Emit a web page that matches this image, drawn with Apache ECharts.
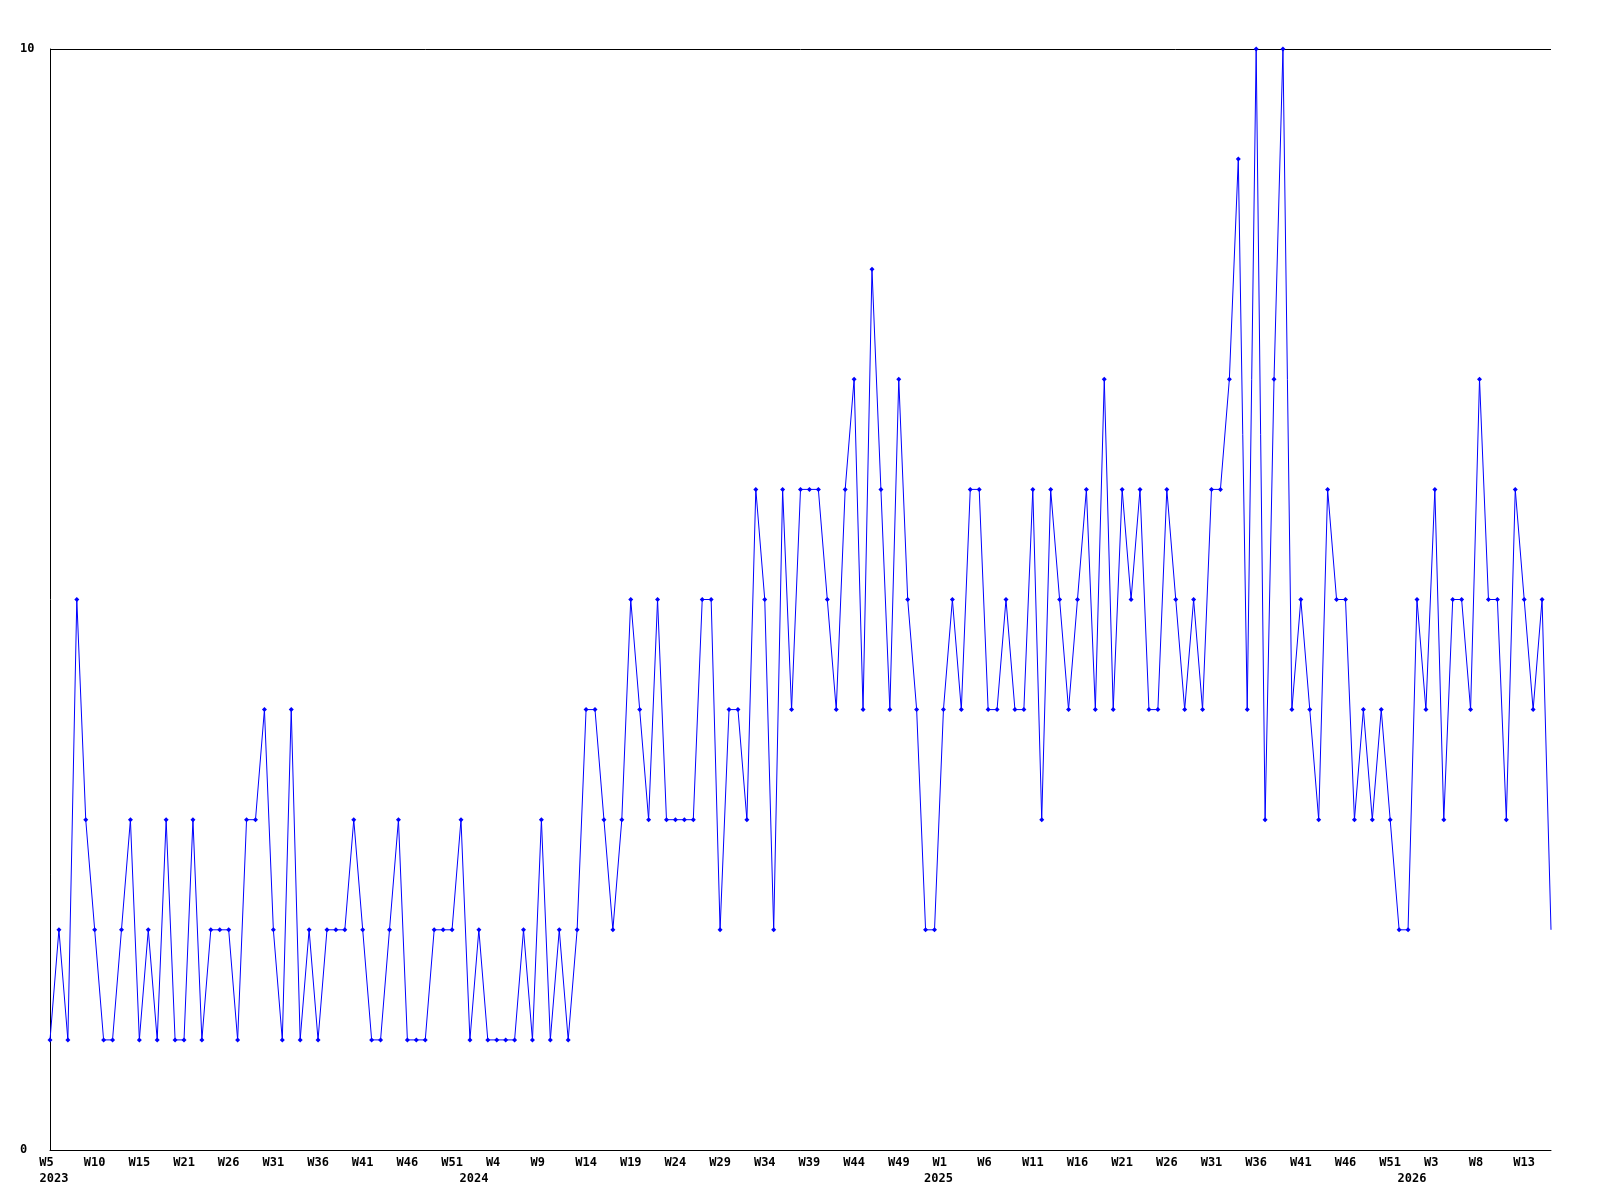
<!DOCTYPE html>
<html>
<head>
<meta charset="utf-8">
<title>Weekly count</title>
<script src="https://cdn.jsdelivr.net/npm/echarts@6/dist/echarts.min.js"></script>
<style>
  html, body { margin: 0; padding: 0; background: #fff; }
  #chart { width: 1600px; height: 1200px; }
</style>
</head>
<body>
<div id="chart"></div>
<script>
// week buckets for each year (weeks with no data are left out)
const weeks2023 = [5, 6, 7, 8, 9, 10, 11, 12, 13, 14, 15, 16, 17, 19, 20, 21, 22, 23, 24, 25, 26, 27, 28, 29, 30,
  31, 32, 33, 34, 35, 36, 37, 38, 39, 40, 41, 42, 43, 44, 45, 46, 47, 48, 49, 50, 51, 52];
const weeks2024 = [1, 2, 3, 4, 5, 6, 7, 8, 9, 10, 11, 12, 13, 14, 15, 16, 17, 18, 19, 20, 21, 22, 23, 24, 25, 26,
  27, 28, 29, 30, 31, 32, 33, 34, 35, 36, 37, 38, 39, 40, 41, 42, 43, 44, 45, 46, 47, 48, 49, 50, 51, 52];
const weeks2025 = [0, 1, 2, 3, 4, 5, 6, 7, 8, 9, 10, 11, 12, 13, 14, 15, 16, 17, 18, 19, 20, 21, 22, 23, 24, 25, 26,
  27, 28, 29, 30, 31, 32, 33, 34, 35, 36, 37, 38, 39, 40, 41, 42, 43, 44, 45, 46, 47, 48, 49, 50, 51, 52];
const weeks2026 = [0, 1, 2, 3, 4, 5, 6, 7, 8, 9, 10, 11, 12, 13, 14, 15, 16];

// count per week
const counts = [
  1, 2, 1, 5, 3, 2, 1, 1, 2, 3, 1, 2, 1, 3, 1, 1, 3, 1, 2, 2,
  2, 1, 3, 3, 4, 2, 1, 4, 1, 2, 1, 2, 2, 2, 3, 2, 1, 1, 2, 3,
  1, 1, 1, 2, 2, 2, 3, 1, 2, 1, 1, 1, 1, 2, 1, 3, 1, 2, 1, 2,
  4, 4, 3, 2, 3, 5, 4, 3, 5, 3, 3, 3, 3, 5, 5, 2, 4, 4, 3, 6,
  5, 2, 6, 4, 6, 6, 6, 5, 4, 6, 7, 4, 8, 6, 4, 7, 5, 4, 2, 2,
  4, 5, 4, 6, 6, 4, 4, 5, 4, 4, 6, 3, 6, 5, 4, 5, 6, 4, 7, 4,
  6, 5, 6, 4, 4, 6, 5, 4, 5, 4, 6, 6, 7, 9, 4, 10, 3, 7, 10, 4,
  5, 4, 3, 6, 5, 5, 3, 4, 3, 4, 3, 2, 2, 5, 4, 6, 3, 5, 5, 4,
  7, 5, 5, 3, 6, 5, 4, 5, 2
];

const yearWeeks = [['2023', weeks2023], ['2024', weeks2024], ['2025', weeks2025], ['2026', weeks2026]];
const categories = [];
yearWeeks.forEach(([y, ws]) => ws.forEach(w => categories.push(y + '-W' + w)));

const labelFont = {
  color: '#000',
  fontFamily: 'DejaVu Sans Mono',
  fontWeight: 'bold',
  fontSize: 12
};

const chart = echarts.init(document.getElementById('chart'));
chart.setOption({
  animation: false,
  backgroundColor: '#fff',
  grid: { left: 50, right: 49, top: 49, bottom: 50 },
  xAxis: [
    {
      type: 'category',
      data: categories,
      boundaryGap: false,
      axisLine: { lineStyle: { color: '#000', width: 1 } },
      axisTick: { show: false },
      axisLabel: Object.assign({
        interval: 4,
        margin: 7,
        formatter: v => ('W' + v.split('-W')[1]).padEnd(3, ' ')
      }, labelFont),
      splitLine: { show: false }
    },
    {
      // second row: year under the first week of each year
      type: 'category',
      data: categories,
      position: 'bottom',
      offset: 15,
      boundaryGap: false,
      axisLine: { show: false },
      axisTick: { show: false },
      axisLabel: Object.assign({
        interval: (i, v) => i === 0 || v.slice(0, 4) !== categories[i - 1].slice(0, 4),
        margin: 8,
        padding: [0, 0, 0, 8],
        formatter: v => v.slice(0, 4)
      }, labelFont),
      splitLine: { show: false }
    }
  ],
  yAxis: {
    type: 'value',
    min: 0,
    max: 10,
    interval: 10,
    axisLine: { show: true, lineStyle: { color: '#000', width: 1 } },
    axisTick: { show: false },
    axisLabel: Object.assign({ align: 'left', margin: 30, padding: [4, 0, 0, 0] }, labelFont),
    splitLine: { show: true, lineStyle: { color: '#000', width: 1 } }
  },
  series: [
    {
      type: 'line',
      data: counts,
      showAllSymbol: true,
      symbol: (v, p) => (p.dataIndex === counts.length - 1 ? 'none' : 'diamond'),
      symbolSize: 5,
      lineStyle: { color: '#0000ff', width: 1 },
      itemStyle: { color: '#0000ff' }
    }
  ]
});
</script>
</body>
</html>
